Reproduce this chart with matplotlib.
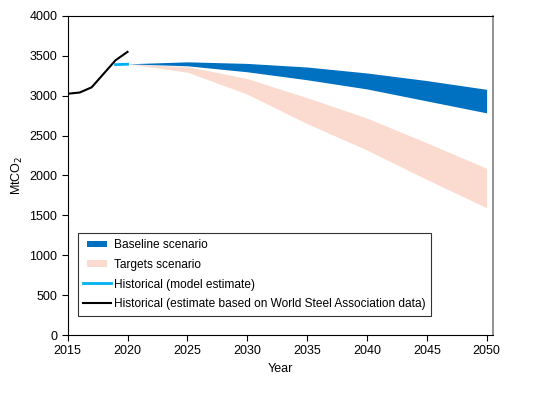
import matplotlib
matplotlib.use("Agg")
import matplotlib.pyplot as plt
from matplotlib.lines import Line2D
from matplotlib.patches import Rectangle
from matplotlib.legend_handler import HandlerPatch

plt.rcParams['font.family'] = ['Liberation Sans', 'DejaVu Sans']

# Data
proj_years = [2020, 2025, 2030, 2035, 2040, 2045, 2050]
baseline_high = [3400, 3425, 3405, 3360, 3285, 3190, 3080]
baseline_low = [3400, 3375, 3300, 3200, 3085, 2935, 2785]
targets_high = [3400, 3365, 3215, 2975, 2720, 2410, 2090]
targets_low = [3400, 3295, 3020, 2650, 2320, 1950, 1595]

hist_model_years = [2019, 2020]
hist_model = [3390, 3395]

hist_wsa_years = [2015, 2016, 2017, 2018, 2019, 2020]
hist_wsa = [3025, 3040, 3105, 3275, 3445, 3550]

x_ticks = [2015, 2020, 2025, 2030, 2035, 2040, 2045, 2050]
y_ticks = [0, 500, 1000, 1500, 2000, 2500, 3000, 3500, 4000]

c_base = '#0070C0'
c_targ = '#FBDBCF'
c_cyan = '#00B0F0'

fig = plt.figure(figsize=(5.36, 3.99), dpi=100)
ax = fig.add_axes([0.1263, 0.1604, 0.7927, 0.7996])

ax.fill_between(proj_years, targets_low, targets_high, color=c_targ, linewidth=0)
ax.fill_between(proj_years, baseline_low, baseline_high, color=c_base, linewidth=0)
ax.plot(hist_model_years, hist_model, color=c_cyan, linewidth=2)
ax.plot(hist_wsa_years, hist_wsa, color='black', linewidth=1.5)

ax.set_xlim(2015, 2050.5)
ax.set_ylim(0, 4000)
ax.set_xticks(x_ticks)
ax.set_yticks(y_ticks)
ax.tick_params(direction='out', length=4, width=0.8, labelsize=9, colors='black')
for s in ['left', 'bottom', 'top']:
    ax.spines[s].set_color('black')
    ax.spines[s].set_linewidth(0.8)
ax.spines['right'].set_color('#808080')
ax.spines['right'].set_linewidth(1.2)

ax.set_xlabel('Year', fontsize=9)
ax.set_ylabel('MtCO$_2$', fontsize=9, labelpad=3)


def band_patch(legend, orig_handle, xdescent, ydescent, width, height, fontsize):
    h = 4.5
    return Rectangle((-xdescent + 0.13 * width, -ydescent + height / 2 - h / 2),
                     0.74 * width, h)


handles = [
    Rectangle((0, 0), 1, 1, facecolor=c_base, edgecolor='none'),
    Rectangle((0, 0), 1, 1, facecolor=c_targ, edgecolor='none'),
    Line2D([0], [0], color=c_cyan, linewidth=2),
    Line2D([0], [0], color='black', linewidth=1.5),
]
labels = ['Baseline scenario', 'Targets scenario', 'Historical (model estimate)',
          'Historical (estimate based on World Steel Association data)']
hp = HandlerPatch(patch_func=band_patch)
leg = ax.legend(handles, labels, loc='lower left', bbox_to_anchor=(0.024, 0.06),
                fontsize=8.6, frameon=True, fancybox=False, framealpha=1,
                edgecolor='#333333', handlelength=2.3, handletextpad=0.25,
                labelspacing=0.66, borderpad=0.45, borderaxespad=0,
                handler_map={Rectangle: hp})
leg.get_frame().set_linewidth(0.8)

fig.savefig('out.png', dpi=100)
